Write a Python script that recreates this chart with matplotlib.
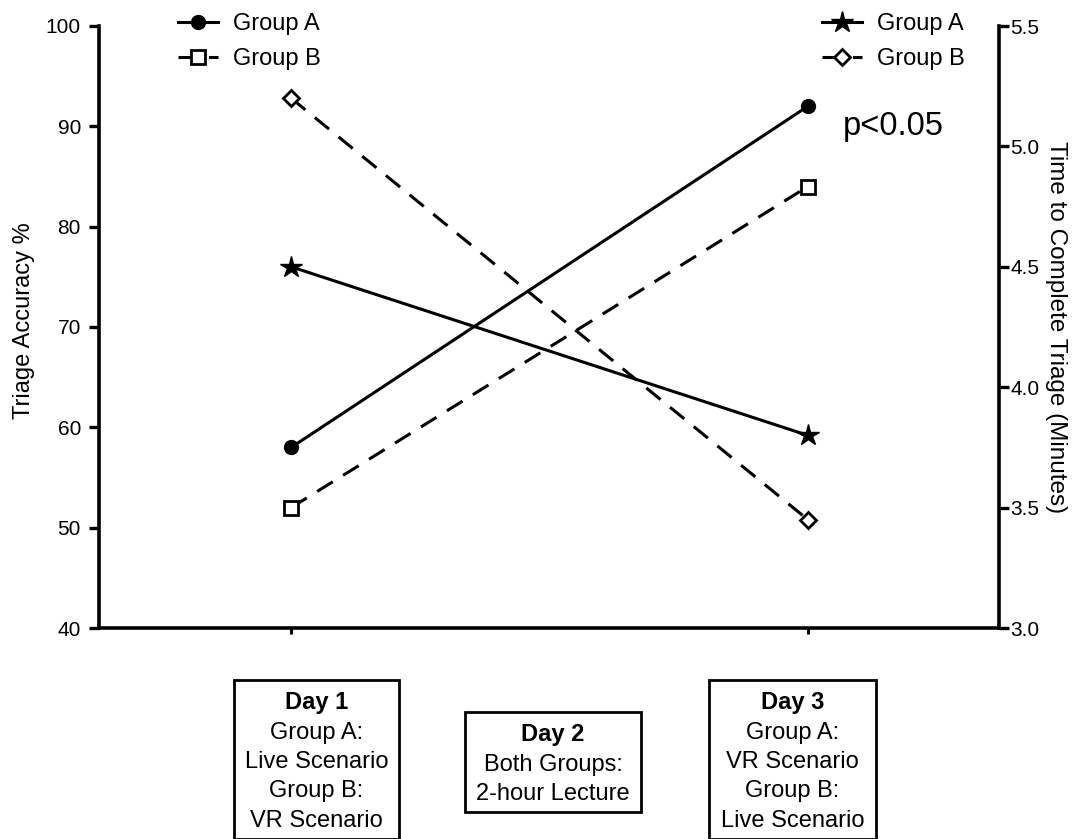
import matplotlib
matplotlib.use('Agg')
import matplotlib.pyplot as plt
from matplotlib.patches import Rectangle

plt.rcParams['font.family'] = ['Liberation Sans', 'DejaVu Sans']

days = [1, 3]
acc_a = [58, 92]
acc_b = [52, 84]
time_a = [4.5, 3.8]
time_b = [5.2, 3.45]

acc_ticks = [40, 50, 60, 70, 80, 90, 100]
time_ticks = [3.0, 3.5, 4.0, 4.5, 5.0, 5.5]

box_titles = ['Day 1', 'Day 2', 'Day 3']
box_lines = [
    ['Group A:', 'Live Scenario', 'Group B:', 'VR Scenario'],
    ['Both Groups:', '2-hour Lecture'],
    ['Group A:', 'VR Scenario', 'Group B:', 'Live Scenario'],
]

W, H = 1080, 839
fig = plt.figure(figsize=(W / 100, H / 100), dpi=100)
ax = fig.add_axes([99 / W, 1 - 628 / H, 900 / W, 602 / H])
ax2 = ax.twinx()

# left axis: accuracy
l1, = ax.plot(days, acc_a, '-', color='black', lw=2.2, marker='o', ms=10,
              label='Group A')
l2, = ax.plot(days, acc_b, '--', color='black', lw=2.2, marker='s', ms=10,
              mfc='white', mew=2, dashes=(6, 4), label='Group B')

# right axis: time
l3, = ax2.plot(days, time_a, '-', color='black', lw=2.2, marker='*', ms=16,
               label='Group A')
l4, = ax2.plot(days, time_b, '--', color='black', lw=2.2, marker='D', ms=8,
               mfc='white', mew=2, dashes=(6, 4), label='Group B')

ax.set_xlim(0.256, 3.74)
ax.set_ylim(40, 100)
ax2.set_ylim(3.0, 5.5)
ax.set_yticks(acc_ticks)
ax2.set_yticks(time_ticks)
ax2.set_yticklabels(['%.1f' % t for t in time_ticks])
ax.set_xticks(days)
ax.set_xticklabels([])

for a in (ax, ax2):
    a.spines['top'].set_visible(False)
    for s in a.spines.values():
        s.set_linewidth(2.6)
ax.spines['right'].set_visible(False)
ax2.spines['left'].set_visible(False)
ax2.spines['bottom'].set_visible(False)

ax.tick_params(axis='y', length=7, width=2.4, labelsize=15, pad=6)
ax.tick_params(axis='x', length=4, width=2.2, direction='out')
ax2.tick_params(axis='y', length=7, width=2.4, labelsize=15, pad=1)

ax.set_ylabel('Triage Accuracy %', fontsize=17, va='center')
ax.yaxis.set_label_coords(-0.083, 0.51)
ax2.set_ylabel('Time to Complete Triage (Minutes)', fontsize=17.5,
               rotation=270, va='center')
ax2.yaxis.set_label_coords(1.063, 0.5)

ax.text((843 - 99) / 900, (628 - 127) / 602, 'p<0.05',
        transform=ax.transAxes, fontsize=23.5, va='center', ha='left')

leg_kw = dict(loc='center left', frameon=False, fontsize=17, borderpad=0,
              borderaxespad=0, handlelength=1.7, handletextpad=0.64,
              labelspacing=0.55)
fig.legend(handles=[l1, l2], bbox_to_anchor=(178 / W, 1 - 41.5 / H), **leg_kw)
fig.legend(handles=[l3, l4], bbox_to_anchor=(822 / W, 1 - 41.5 / H), **leg_kw)

# boxes below the chart (pixel edges: left, right, top, bottom)
box_edges = [(234, 399, 680, 839), (465, 641, 712, 812), (709, 876, 680, 839)]
line_step = 29.5
for title, lines, (x0, x1, y0, y1) in zip(box_titles, box_lines, box_edges):
    fig.add_artist(Rectangle((x0 / W, 1 - y1 / H), (x1 - x0) / W,
                             (y1 - y0) / H, transform=fig.transFigure,
                             fill=False, ec='black', lw=2))
    cx = (x0 + x1) / 2 / W
    cy = y0 + 23
    fig.text(cx, 1 - cy / H, title, fontsize=17, fontweight='bold',
             ha='center', va='center')
    for i, txt in enumerate(lines):
        fig.text(cx, 1 - (cy + line_step * (i + 1)) / H, txt, fontsize=17,
                 ha='center', va='center')

fig.savefig('out.png', dpi=100)
